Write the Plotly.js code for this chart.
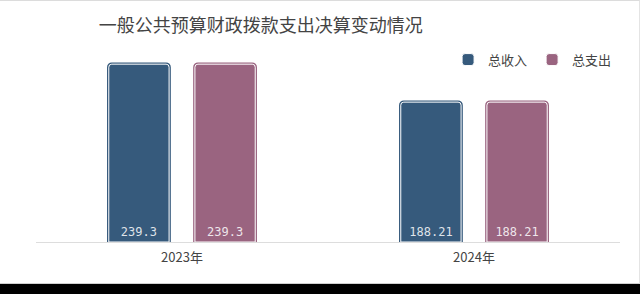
<!DOCTYPE html>
<html>
<head>
<meta charset="utf-8">
<script src="https://cdn.plot.ly/plotly-3.0.1.min.js"></script>
<style>
  html, body { margin: 0; padding: 0; background: #000; }
  #chart { width: 639px; height: 282px; background: #fff; border-top: 1px solid #dcdcdc; border-right: 1px solid #e4e4e4; border-bottom: 1px solid #d0d0d0; }
</style>
</head>
<body>
<div id="chart"></div>
<script>
const titleText = '一般公共预算财政拨款支出决算变动情况';
const categories = ['2023年', '2024年'];
const seriesNames = ['总收入', '总支出'];
const income = [239.3, 188.21];
const expense = [239.3, 188.21];
const colors = ['#365a7c', '#9a6480'];

const seriesValues = [income, expense];
const traces = [];
seriesValues.forEach((vals, i) => {
  // outer colored border
  traces.push({
    type: 'bar', x: categories, y: vals, name: seriesNames[i],
    offsetgroup: 'g' + i, showlegend: false, hoverinfo: 'skip',
    marker: { color: colors[i], line: { color: colors[i], width: 3.5 }, cornerradius: 3 },
    textposition: 'none'
  });
});
seriesValues.forEach((vals, i) => {
  // inner bar with white inner line
  traces.push({
    type: 'bar', x: categories, y: vals, name: seriesNames[i],
    offsetgroup: 'g' + i,
    marker: { color: colors[i], line: { color: '#ffffff', width: 1 }, cornerradius: 3 },
    text: vals.map(v => String(v)),
    textposition: 'inside', insidetextanchor: 'start',
    textangle: 0,
    insidetextfont: { family: 'DejaVu Sans Mono', size: 12, color: 'rgba(255,255,255,0.85)' }
  });
});

const layout = {
  width: 639, height: 282,
  margin: { l: 36, r: 19, t: 53, b: 41 },
  paper_bgcolor: '#ffffff', plot_bgcolor: '#ffffff',
  barmode: 'group', bargap: 0.41, bargroupgap: 0.30,
  title: {
    text: titleText, x: 0.408, xanchor: 'center', y: 0.913, yanchor: 'middle', xref: 'container', yref: 'container',
    font: { family: 'Noto Sans CJK SC', size: 18, color: '#444444' }
  },
  xaxis: {
    type: 'category', showline: true, linecolor: '#dddddd', linewidth: 1,
    ticks: '', ticklabelstandoff: 3, showgrid: false, zeroline: false,
    tickfont: { family: 'Noto Sans CJK SC', size: 13, color: '#444444' }
  },
  yaxis: { range: [0, 253], visible: false, showgrid: false, zeroline: false },
  legend: {
    orientation: 'h', x: 0.995, xanchor: 'right', y: 0.97, yanchor: 'middle',
    font: { family: 'Noto Sans CJK SC', size: 13, color: '#444444' },
    itemwidth: 30, tracegroupgap: 0, bgcolor: 'rgba(0,0,0,0)'
  },
  showlegend: true
};

Plotly.newPlot('chart', traces, layout, { displayModeBar: false, staticPlot: true });
</script>
</body>
</html>
